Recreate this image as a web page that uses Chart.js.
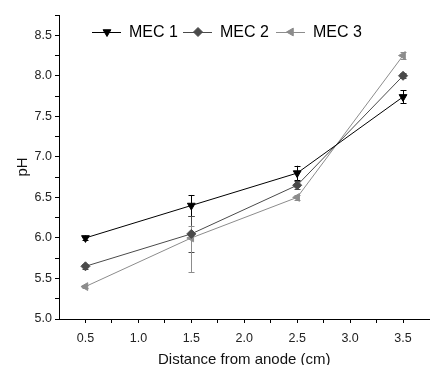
<!DOCTYPE html>
<html>
<head>
<meta charset="utf-8">
<script src="https://cdn.jsdelivr.net/npm/chart.js@4"></script>
<style>
  html, body { margin: 0; padding: 0; background: #fff; }
  #wrap { width: 435px; height: 365px; }
</style>
</head>
<body>
<div id="wrap"><canvas id="myChart" width="435" height="365"></canvas></div>
<script>
// distance from anode (cm)
const distances = [0.5, 1.5, 2.5, 3.5];

const mec1 = [6.00, 6.40, 6.80, 7.74];
const mec1ErrUp = [0.03, 0.13, 0.09, 0.08];
const mec1ErrDown = [0.03, 0.13, 0.09, 0.08];

const mec2 = [5.65, 6.05, 6.65, 8.00];
const mec2ErrUp = [0.03, 0.22, 0.05, 0.03];
const mec2ErrDown = [0.03, 0.22, 0.05, 0.03];

const mec3 = [5.40, 6.00, 6.50, 8.25];
const mec3ErrUp = [0.02, 0.15, 0.03, 0.04];
const mec3ErrDown = [0.02, 0.42, 0.03, 0.04];

const seriesNames = ['MEC 1', 'MEC 2', 'MEC 3'];

const FONT = 'Liberation Sans, Arial, sans-serif';

function toPoints(ys) {
    return distances.map((x, i) => ({ x: x, y: ys[i] }));
}

// error bars, drawn under the markers
const errorBars = {
    id: 'errorBars',
    beforeDatasetsDraw(chart) {
        const ctx = chart.ctx;
        const xs = chart.scales.x, ys = chart.scales.y;
        chart.data.datasets.forEach(ds => {
            ctx.save();
            ctx.strokeStyle = ds.errColor;
            ctx.lineWidth = 1;
            ds.data.forEach((p, i) => {
                const px = Math.round(xs.getPixelForValue(p.x)) + 0.5;
                const top = ys.getPixelForValue(p.y + ds.errUp[i]);
                const bot = ys.getPixelForValue(p.y - ds.errDown[i]);
                ctx.beginPath();
                ctx.moveTo(px, top); ctx.lineTo(px, bot);
                ctx.moveTo(px - 3, Math.round(top) + 0.5); ctx.lineTo(px + 3, Math.round(top) + 0.5);
                ctx.moveTo(px - 3, Math.round(bot) + 0.5); ctx.lineTo(px + 3, Math.round(bot) + 0.5);
                ctx.stroke();
            });
            ctx.restore();
        });
    }
};

// legend inside the plot, line + marker + label
const innerLegend = {
    id: 'innerLegend',
    afterDraw(chart) {
        const ctx = chart.ctx;
        const y = 32;
        const starts = [92, 183, 276];
        chart.data.datasets.forEach((ds, i) => {
            const x0 = starts[i];
            ctx.save();
            ctx.strokeStyle = ds.borderColor;
            ctx.lineWidth = 1;
            ctx.beginPath();
            ctx.moveTo(x0, y + 0.5); ctx.lineTo(x0 + 29, y + 0.5);
            ctx.stroke();
            ctx.fillStyle = ds.pointBackgroundColor;
            ctx.strokeStyle = ds.pointBorderColor;
            ctx.beginPath();
            Chart.helpers.drawPoint(ctx, {
                pointStyle: ds.pointStyle,
                rotation: ds.pointRotation,
                radius: 4.5,
                borderWidth: 1
            }, x0 + 15, y);
            ctx.fillStyle = '#000';
            ctx.font = '16px ' + FONT;
            ctx.textBaseline = 'middle';
            ctx.fillText(seriesNames[i], x0 + 37, y + 1);
            ctx.restore();
        });
    }
};

const ctx = document.getElementById('myChart');

function makeSet(i, ys, up, down, color, errColor, style, rot) {
    return {
        label: seriesNames[i],
        data: toPoints(ys),
        errUp: up,
        errDown: down,
        errColor: errColor,
        borderColor: color,
        borderWidth: 1,
        pointStyle: style,
        pointRotation: rot,
        pointRadius: 4.5,
        pointBackgroundColor: color,
        pointBorderColor: color,
        tension: 0
    };
}

new Chart(ctx, {
    type: 'line',
    data: {
        datasets: [
            makeSet(0, mec1, mec1ErrUp, mec1ErrDown, '#000000', '#000000', 'triangle', 180),
            makeSet(1, mec2, mec2ErrUp, mec2ErrDown, '#4a4a4a', '#4a4a4a', 'rectRot', 0),
            makeSet(2, mec3, mec3ErrUp, mec3ErrDown, '#8c8c8c', '#8c8c8c', 'triangle', -90)
        ]
    },
    options: {
        responsive: false,
        animation: false,
        layout: { padding: { top: 15, right: 0, left: 0, bottom: 0 } },
        plugins: {
            legend: { display: false },
            tooltip: { enabled: false }
        },
        scales: {
            x: {
                type: 'linear',
                min: 0.25,
                max: 3.75,
                afterFit(scale) { scale.height = 46; },
                afterBuildTicks(scale) {
                    const t = [];
                    for (let v = 0.5; v <= 3.5001; v += 0.25) t.push({ value: +v.toFixed(2) });
                    scale.ticks = t;
                },
                border: { display: true, color: '#000', width: 1 },
                grid: {
                    drawOnChartArea: false,
                    drawTicks: true,
                    tickLength: 4,
                    color: '#000'
                },
                ticks: {
                    autoSkip: false,
                    maxRotation: 0,
                    color: '#222',
                    padding: 8,
                    font: { family: FONT, size: 12.5 },
                    callback: v => (Math.abs(v * 2 - Math.round(v * 2)) < 1e-6 ? v.toFixed(1) : '')
                },
                title: {
                    display: true,
                    text: 'Distance from anode (cm)',
                    color: '#111',
                    font: { family: FONT, size: 15 },
                    padding: { top: 3, bottom: -4 }
                }
            },
            y: {
                min: 5.0,
                max: 8.75,
                afterFit(scale) { scale.width = 59; },
                border: { display: true, color: '#000', width: 1 },
                grid: {
                    drawOnChartArea: false,
                    drawTicks: true,
                    tickLength: 4,
                    color: '#000'
                },
                ticks: {
                    stepSize: 0.25,
                    autoSkip: false,
                    color: '#222',
                    padding: 3,
                    font: { family: FONT, size: 12.5 },
                    callback: v => (Math.abs(v * 2 - Math.round(v * 2)) < 1e-6 ? v.toFixed(1) : '')
                },
                title: {
                    display: true,
                    text: 'pH',
                    color: '#111',
                    font: { family: FONT, size: 15 },
                    padding: { top: 14, bottom: 0 }
                }
            }
        }
    },
    plugins: [errorBars, innerLegend]
});
</script>
</body>
</html>
